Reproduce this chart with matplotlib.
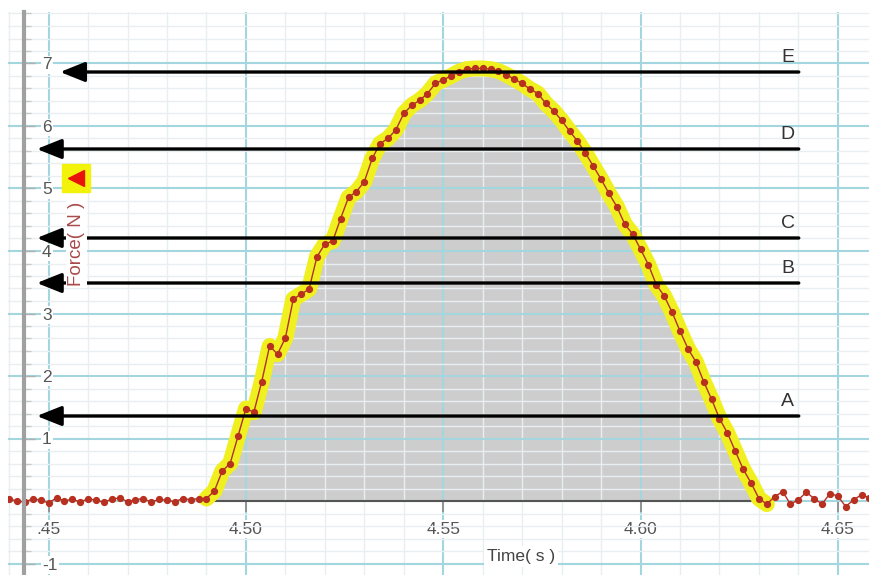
"""Force vs time pulse with selected region and level arrows A-E."""

import matplotlib

matplotlib.use("Agg")
import matplotlib.pyplot as plt
import numpy as np
from matplotlib.ticker import MultipleLocator

plt.rcParams["font.family"] = ["Liberation Sans", "DejaVu Sans"]

# ---- data ----
sample_dt = 0.002          # 500 Hz logger
t_first = 4.440
force_pre = [0.03, 0.00, -0.02, 0.04, 0.01, -0.03, 0.05, 0.00, 0.03, -0.02,
             0.04, 0.01, -0.02, 0.03, 0.05, -0.01, 0.02, 0.04, -0.02, 0.03,
             0.01, -0.01, 0.04, 0.02, 0.04]
force_pulse = [0.04, 0.16, 0.48, 0.60, 1.04, 1.48, 1.42, 1.91, 2.48, 2.35,
               2.61, 3.23, 3.31, 3.39, 3.91, 4.11, 4.16, 4.52, 4.86, 4.95,
               5.11, 5.48, 5.72, 5.80, 5.94, 6.20, 6.33, 6.41, 6.52, 6.68,
               6.74, 6.80, 6.87, 6.91, 6.92, 6.92, 6.91, 6.88, 6.82, 6.75,
               6.68, 6.59, 6.52, 6.36, 6.24, 6.09, 5.92, 5.76, 5.57, 5.36,
               5.15, 4.92, 4.71, 4.43, 4.27, 4.03, 3.78, 3.46, 3.28, 3.02,
               2.72, 2.44, 2.23, 1.91, 1.63, 1.32, 1.09, 0.80, 0.51, 0.29,
               0.04, -0.05]
force_post = [0.07, 0.15, -0.05, 0.02, 0.14, 0.04, -0.05, 0.12, 0.08, -0.09,
              0.02, 0.10, 0.05]

arrow_names = ["A", "B", "C", "D", "E"]
arrow_levels = [1.36, 3.488, 4.208, 5.632, 6.864]
arrow_tips = [4.4470, 4.4470, 4.4470, 4.4470, 4.4529]
arrow_start = 4.6401

xtick_vals = [4.45, 4.50, 4.55, 4.60, 4.65]
xtick_text = [".45", "4.50", "4.55", "4.60", "4.65"]
ytick_vals = [-1, 0, 1, 2, 3, 4, 5, 6, 7]
ytick_text = ["-1", "", "1", "2", "3", "4", "5", "6", "7"]

# ---- assemble series ----
force = np.array(force_pre + force_pulse + force_post)
time = t_first + sample_dt * np.arange(force.size)
i0 = len(force_pre)
i1 = i0 + len(force_pulse)
t_sel = time[i0:i1]
f_sel = force[i0:i1]

fig = plt.figure(figsize=(8.69, 5.75), dpi=100)
ax = fig.add_axes([8 / 869, 0, 861 / 869, 563 / 575])
ax.set_xlim(4.4397, 4.6579)
ax.set_ylim(-1.184, 7.824)

# grid
ax.set_axisbelow("line")
ax.xaxis.set_minor_locator(MultipleLocator(0.01))
ax.yaxis.set_minor_locator(MultipleLocator(0.2))
ax.grid(which="major", color="#a3d6de", lw=1.5)
ax.grid(which="minor", color="#e9eff1", lw=1.0)

# selected region
ax.fill_between(t_sel, np.clip(f_sel, 0, None), 0, color="#cdcdcd", lw=0, zorder=1)
ax.plot([t_sel[0], t_sel[-1]], [0, 0], color="#555555", lw=1.5, zorder=1.6)
ax.plot(t_sel, f_sel, color="#f0f020", lw=11.5, solid_capstyle="round",
        solid_joinstyle="round", zorder=2)

# force trace
ax.plot(time, force, color="#b0302a", lw=1.0, zorder=2.2)
ax.plot(time, force, ls="none", marker="o", ms=4.2, mfc="#b8301f", mec="#b8301f",
        zorder=2.3)

# arrows
for name, lvl, tip in zip(arrow_names, arrow_levels, arrow_tips):
    ax.annotate("", xy=(tip, lvl), xytext=(arrow_start, lvl),
                arrowprops=dict(arrowstyle="-|>,head_length=0.75,head_width=0.3",
                                lw=2.4, color="black", shrinkA=0, shrinkB=0,
                                mutation_scale=20),
                zorder=4)
    ax.text(4.6373, lvl + 0.235, name, ha="center", va="center",
            fontsize=14, color="#333333", zorder=4)

# axes / ticks
for s in ("top", "right"):
    ax.spines[s].set_visible(False)
ax.spines["left"].set_position(("data", 4.44375))
ax.spines["left"].set_color("#a0a0a0")
ax.spines["left"].set_linewidth(3)
ax.spines["bottom"].set_position(("data", 0))
ax.spines["bottom"].set_color("none")

ax.set_xticks(xtick_vals, xtick_text)
ax.set_yticks(ytick_vals, ytick_text)
ax.tick_params(axis="x", which="major", direction="out", length=8, width=1.2,
               color="#8a8a8a", pad=7, labelsize=12.5, labelcolor="#555555")
ax.tick_params(axis="x", which="minor", length=0)
ax.tick_params(axis="y", which="major", direction="in", length=8, width=1,
               color="#b0b0b0", pad=-13, labelsize=12.5, labelcolor="#555555")
ax.tick_params(axis="y", which="minor", direction="in", length=5, width=1,
               color="#c8c8c8")
for lab in ax.get_yticklabels():
    lab.set_ha("left")
for lab in ax.get_xticklabels() + ax.get_yticklabels():
    lab.set_bbox(dict(facecolor="white", edgecolor="none", pad=1))

# axis labels (drawn as texts so they sit above the arrows)
ax.text(0.596, 0.033, "Time( s )", transform=ax.transAxes, ha="center",
        va="center", fontsize=12.5, color="#444444", zorder=6,
        bbox=dict(facecolor="white", edgecolor="none", pad=2))
ax.text(0.080, 0.588, "Force( N )", transform=ax.transAxes, rotation=90,
        ha="center", va="center", fontsize=13.5, color="#a84a4a", zorder=6,
        bbox=dict(facecolor="white", edgecolor="none", pad=1.5))
ax.plot([0.0795], [0.705], marker="s", ms=20, color="#f2f20a",
        transform=ax.transAxes, clip_on=False, zorder=6)
ax.plot([0.0795], [0.705], marker="<", ms=12, color="#e8140c",
        transform=ax.transAxes, clip_on=False, zorder=7)

fig.savefig("out.png", dpi=100)
plt.close(fig)
